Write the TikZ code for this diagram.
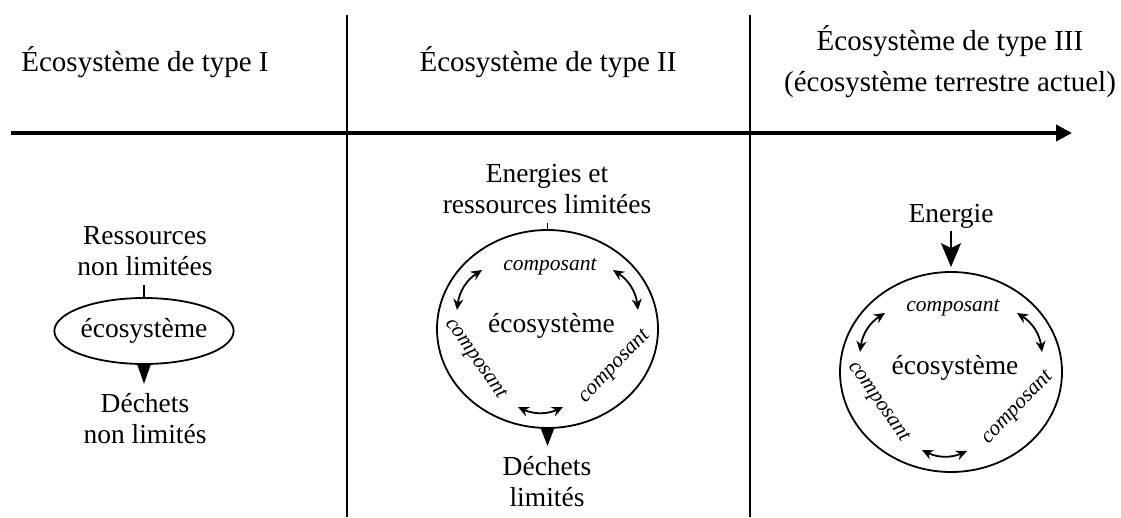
\documentclass[tikz,border=0pt]{standalone}
\usepackage{fontspec}
\setmainfont{Liberation Serif}
\usetikzlibrary{shapes.geometric,arrows.meta,positioning}

\begin{document}
\begin{tikzpicture}[x=1pt,y=1pt]
    % Define styles
    \tikzset{
        coltitle/.style={font=\fontsize{29}{41}\selectfont, align=center, inner sep=0pt},
        txt/.style={font=\fontsize{27.5}{31}\selectfont, align=center, inner sep=0pt},
        comp/.style={font=\fontsize{21.5}{24}\selectfont\itshape, inner sep=0pt},
        ring/.style={ellipse, draw, line width=1.8pt, inner sep=0pt},
        link/.style={{Stealth[length=11pt,width=10pt]}-{Stealth[length=11pt,width=10pt]}, line width=1.8pt},
    }
    \useasboundingbox (0,0) rectangle (1121,517);

    % Time axis and columns
    \coordinate (axisstart) at (11,384);
    \coordinate (axisend) at (1072,384);
    \draw[line width=4pt, -{Triangle[length=16pt,width=16pt]}] (axisstart) -- (axisend);
    \draw[line width=2pt] (347,502) -- (347,0);
    \draw[line width=2pt] (750,502) -- (750,0);

    % Titles
    \node[coltitle] (type1) at (145,455) {Écosystème de type I};
    \node[coltitle] (type2) at (548,455) {Écosystème de type II};
    \node[coltitle] (type3) at (950,455) {Écosystème de type III\\(écosystème terrestre actuel)};

    % Type I
    \node[txt] (res1) at (145,266) {Ressources\\non limitées};
    \node[ring, minimum width=142, minimum height=66, font=\fontsize{27.5}{31}\selectfont] (eco1) at (144,186) {écosystème};
    \draw[line width=1.8pt] (eco1.north) -- ++(0,12);
    \fill ([xshift=-7pt,yshift=1pt]eco1.south) -- ([xshift=7pt,yshift=1pt]eco1.south) -- ([yshift=-19pt]eco1.south) -- cycle;
    \node[txt] (waste1) at (145,98) {Déchets\\non limités};

    % Type II
    \node[txt] (res2) at (547,328) {Energies et\\ressources limitées};
    \node[ring, minimum width=221, minimum height=198] (eco2) at (547.5,188) {};
    \draw[line width=1.8pt] (eco2.north) -- ++(0,6);
    \node[txt] (core2) at (551.5,191) {écosystème};
    \node[comp] (top2) at (550,250) {composant};
    \node[comp, rotate=-55] (left2) at (475,158) {composant};
    \node[comp, rotate=46] (right2) at (615,150) {composant};
    \draw[link] ([shift={(-65.5,59)}]eco2.center) to[bend right=25] ([shift={(-90.5,19)}]eco2.center);
    \draw[link] ([shift={(65.5,59)}]eco2.center) to[bend left=25] ([shift={(90.5,19)}]eco2.center);
    \draw[link] ([shift={(-29.5,-78)}]eco2.center) to[bend right=25] ([shift={(15.5,-78)}]eco2.center);
    \fill ([xshift=-7pt,yshift=1pt]eco2.south) -- ([xshift=7pt,yshift=1pt]eco2.south) -- ([yshift=-17pt]eco2.south) -- cycle;
    \node[txt] (waste2) at (547,35) {Déchets\\limités};

    % Type III
    \node[txt] (energy) at (951,301) {Energie};
    \node[ring, minimum width=222, minimum height=200] (eco3) at (951,145) {};
    \draw[line width=2pt, -{Stealth[length=24pt,width=20pt,inset=5pt]}, shorten <=3pt, shorten >=4pt] (energy.south) -- (eco3.north);
    \node[txt] (core3) at (955,149) {écosystème};
    \node[comp] (top3) at (953,209) {composant};
    \node[comp, rotate=-55] (left3) at (878,115) {composant};
    \node[comp, rotate=46] (right3) at (1018,109) {composant};
    \draw[link] ([shift={(-66,59)}]eco3.center) to[bend right=25] ([shift={(-91,20)}]eco3.center);
    \draw[link] ([shift={(66,59)}]eco3.center) to[bend left=25] ([shift={(91,20)}]eco3.center);
    \draw[link] ([shift={(-29,-78)}]eco3.center) to[bend right=25] ([shift={(16,-79)}]eco3.center);
\end{tikzpicture}
\end{document}
